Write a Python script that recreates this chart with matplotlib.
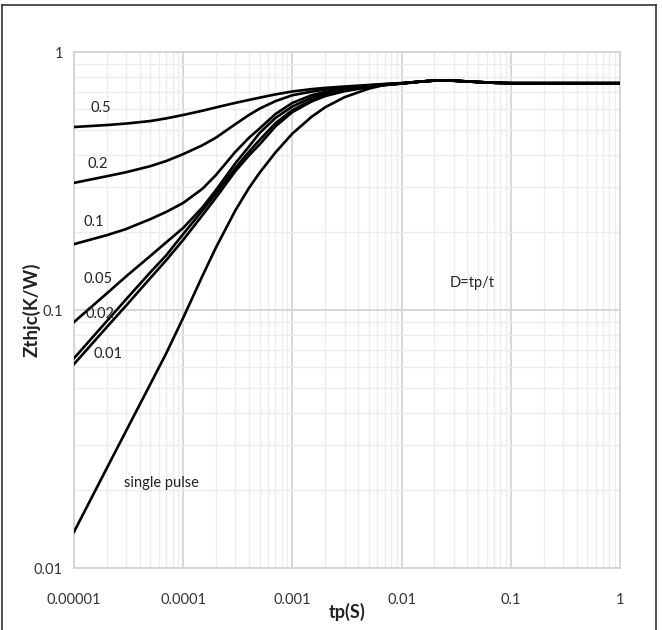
import matplotlib
matplotlib.use("Agg")
import matplotlib.pyplot as plt
from matplotlib.lines import Line2D
from matplotlib.ticker import LogLocator, FixedLocator, FixedFormatter, NullFormatter

plt.rcParams['font.family'] = ['Lato', 'DejaVu Sans']

# ---- data ----
tp = [1e-5, 2e-5, 3e-5, 5e-5, 7e-5, 1e-4, 1.5e-4, 2e-4, 3e-4, 4e-4, 5e-4, 7e-4,
      1e-3, 1.5e-3, 2e-3, 3e-3, 5e-3, 7e-3, 1e-2, 1.5e-2, 2e-2, 3e-2, 5e-2, 7e-2,
      1e-1, 2e-1, 5e-1, 1.0]

plateau = [0.768, 0.775, 0.774, 0.765, 0.760, 0.757, 0.757, 0.757, 0.757]

z_05 = [0.512, 0.521, 0.528, 0.540, 0.553, 0.570, 0.592, 0.610, 0.635, 0.652, 0.665, 0.685,
        0.703, 0.718, 0.726, 0.735, 0.745, 0.752, 0.758] + plateau
z_02 = [0.311, 0.330, 0.342, 0.361, 0.378, 0.402, 0.435, 0.466, 0.525, 0.570, 0.603, 0.645,
        0.680, 0.702, 0.715, 0.728, 0.742, 0.750, 0.757] + plateau
z_01 = [0.180, 0.195, 0.206, 0.225, 0.240, 0.260, 0.295, 0.334, 0.410, 0.465, 0.505, 0.575,
        0.635, 0.680, 0.700, 0.720, 0.737, 0.747, 0.756] + plateau
z_005 = [0.0898, 0.116, 0.135, 0.162, 0.183, 0.208, 0.250, 0.292, 0.370, 0.430, 0.485, 0.555,
         0.615, 0.665, 0.690, 0.713, 0.735, 0.746, 0.755] + plateau
z_002 = [0.065, 0.0906, 0.110, 0.140, 0.163, 0.197, 0.243, 0.283, 0.355, 0.410, 0.456, 0.530,
         0.595, 0.650, 0.680, 0.708, 0.733, 0.745, 0.755] + plateau
z_001 = [0.0617, 0.0859, 0.104, 0.133, 0.156, 0.187, 0.233, 0.273, 0.345, 0.397, 0.438, 0.515,
         0.585, 0.643, 0.675, 0.705, 0.731, 0.744, 0.754] + plateau
z_single = [0.0138, 0.0244, 0.0340, 0.0516, 0.068, 0.0933, 0.1355, 0.175, 0.243, 0.297, 0.340, 0.408,
            0.483, 0.561, 0.611, 0.668, 0.721, 0.746, 0.756] + plateau

series = [z_05, z_02, z_01, z_005, z_002, z_001, z_single]
curve_labels = ["0.5", "0.2", "0.1", "0.05", "0.02", "0.01", "single pulse"]
label_pos = [(1.43e-5, 0.607), (1.32e-5, 0.368), (1.21e-5, 0.219), (1.23e-5, 0.132),
             (1.27e-5, 0.0965), (1.5e-5, 0.0676), (2.87e-5, 0.0213)]

x_ticks = [1e-5, 1e-4, 1e-3, 1e-2, 1e-1, 1.0]
x_ticklabels = ["0.00001", "0.0001", "0.001", "0.01", "0.1", "1"]
y_ticks = [0.01, 0.1, 1.0]
y_ticklabels = ["0.01", "0.1", "1"]

W, H = 662, 630
fig = plt.figure(figsize=(W / 100, H / 100), dpi=100)
ax = fig.add_axes([74 / W, 1 - 568 / H, (620 - 74) / W, (568 - 52) / H])

ax.set_xscale("log")
ax.set_yscale("log")
ax.set_xlim(1e-5, 1)
ax.set_ylim(0.01, 1)

for s in series:
    ax.plot(tp, s, color="black", lw=1.9, solid_joinstyle="round", zorder=3)

for (lx, ly), t in zip(label_pos, curve_labels):
    ax.text(lx, ly, t, fontsize=10.5, color="#222222", ha="left", va="center", zorder=4)

ax.text(0.044, 0.127, "D=tp/t", fontsize=10.5, color="#222222", ha="center", va="center", zorder=4)

ax.xaxis.set_major_locator(FixedLocator(x_ticks))
ax.xaxis.set_major_formatter(FixedFormatter(x_ticklabels))
ax.yaxis.set_major_locator(FixedLocator(y_ticks))
ax.yaxis.set_major_formatter(FixedFormatter(y_ticklabels))
ax.xaxis.set_minor_locator(LogLocator(base=10, subs=range(2, 10)))
ax.yaxis.set_minor_locator(LogLocator(base=10, subs=range(2, 10)))
ax.xaxis.set_minor_formatter(NullFormatter())
ax.yaxis.set_minor_formatter(NullFormatter())

ax.grid(which="major", color="#d4d4d4", lw=1.3, zorder=0)
ax.grid(which="minor", color="#ececec", lw=1.0, zorder=0)
ax.set_axisbelow(True)

ax.tick_params(which="both", length=0, labelsize=10.5, labelcolor="#333333")
ax.tick_params(axis="x", pad=18)
ax.tick_params(axis="y", pad=8)
for sp in ax.spines.values():
    sp.set_color("#d4d4d4")
    sp.set_linewidth(1.3)

ax.set_xlabel("tp(S)", fontsize=13, fontweight="bold", color="#222222", labelpad=-3)
ax.set_ylabel("Zthjc(K/W)", fontsize=13.5, fontweight="bold", color="#222222")
ax.yaxis.set_label_coords(-0.062, 0.5)

# outer frame
fc = "#333333"
fig.add_artist(Line2D([1.5 / W, 1.5 / W], [0, 1 - 5 / H], color=fc, lw=1.2, transform=fig.transFigure))
fig.add_artist(Line2D([1.5 / W, 656 / W], [1 - 5 / H, 1 - 5 / H], color=fc, lw=1.2, transform=fig.transFigure))
fig.add_artist(Line2D([656 / W, 656 / W], [0, 1 - 5 / H], color=fc, lw=1.2, transform=fig.transFigure))

fig.savefig("out.png", dpi=100, facecolor="white")
